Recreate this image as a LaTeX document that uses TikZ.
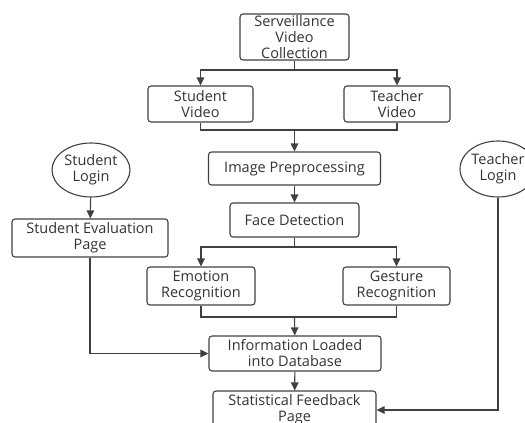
\documentclass[tikz,border=0pt]{standalone}
\usepackage{fontspec}
\setmainfont{Open Sans}
\usetikzlibrary{arrows.meta,shapes.geometric}
\definecolor{linec}{HTML}{404040}
\definecolor{textc}{HTML}{333333}
\begin{document}
\begin{tikzpicture}[x=1pt,y=-1pt,
  every node/.style={font=\fontsize{14.5}{16}\selectfont, text=textc, align=center, inner sep=0pt},
  box/.style={draw=linec, line width=1.1pt, rounded corners=3pt, rectangle},
  oval/.style={draw=linec, line width=1.1pt, ellipse},
  conn/.style={draw=linec, line width=1.1pt},
  arr/.style={conn, -{Triangle[length=8pt,width=7.5pt]}}]
\useasboundingbox (0,0) rectangle (525,423);
\clip (0,0) rectangle (525,423);
\node[box, minimum width=109pt, minimum height=46pt] (svc) at (294.5,37) {Serveillance\\Video\\Collection};
\node[box, minimum width=105pt, minimum height=36pt] (sv) at (200.5,104) {Student\\Video};
\node[box, minimum width=106pt, minimum height=36pt] (tv) at (397,104) {Teacher\\Video};
\node[box, minimum width=172pt, minimum height=33pt] (ip) at (294.5,168.5) {Image Preprocessing};
\node[box, minimum width=129pt, minimum height=34pt] (fd) at (294.5,220) {Face Detection};
\node[box, minimum width=108pt, minimum height=38pt] (er) at (201,286) {Emotion\\Recognition};
\node[box, minimum width=107pt, minimum height=38pt] (gr) at (396.5,286) {Gesture\\Recognition};
\node[box, minimum width=172pt, minimum height=35pt] (info) at (295,353.5) {Information Loaded\\into Database};
\node[box, minimum width=163pt, minimum height=38pt] (stat) at (294.5,410) {Statistical Feedback\\Page};
\node[oval, minimum width=78pt, minimum height=54pt] (sl) at (91,170) {Student\\Login};
\node[box, minimum width=156pt, minimum height=38pt] (sep) at (90,238) {Student Evaluation\\Page};
\node[oval, minimum width=76pt, minimum height=56pt] (tl) at (498,169) {Teacher\\Login};
\coordinate (f1) at (294.5,70);
\coordinate (m1) at (294.5,130);
\coordinate (f2) at (294.5,247);
\coordinate (m2) at (294.5,317);
\draw[conn] (svc.south) -- (f1);
\draw[arr] (f1) -| (sv);
\draw[arr] (f1) -| (tv);
\draw[conn] (sv.south) |- (m1);
\draw[conn] (tv.south) |- (m1);
\draw[arr] (m1) -- (ip);
\draw[arr] (ip) -- (fd);
\draw[conn] (fd.south) -- (f2);
\draw[arr] (f2) -| (er);
\draw[arr] (f2) -| (gr);
\draw[conn] (er.south) |- (m2);
\draw[conn] (gr.south) |- (m2);
\draw[arr] (m2) -- (info);
\draw[arr] (info) -- (stat);
\draw[arr] (sl) -- (sep);
\draw[arr] (sep.south) |- (info.west);
\draw[arr] (tl.south) |- (stat.east);
\end{tikzpicture}
\end{document}
